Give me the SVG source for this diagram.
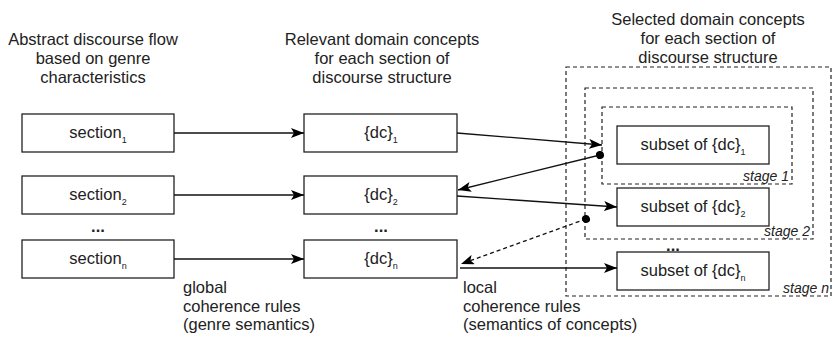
<svg xmlns="http://www.w3.org/2000/svg" width="834" height="337" viewBox="0 0 834 337">
<defs>
<marker id="arr" markerWidth="14" markerHeight="10" refX="13" refY="5" orient="auto" markerUnits="userSpaceOnUse">
<path d="M0,0 L13,5 L0,10 L3,5 z" fill="#000"/>
</marker>
<marker id="dot" markerWidth="10" markerHeight="10" refX="5" refY="5" orient="auto" markerUnits="userSpaceOnUse">
<circle cx="5" cy="5" r="4" fill="#000"/>
</marker>
</defs>
<style>
text{font-family:"Liberation Sans",Arial,sans-serif;font-size:16.5px;fill:#222}
.c{text-anchor:middle}
.sub{font-size:9px}
.st{font-style:italic;font-size:14px;text-anchor:end}
.box{fill:#fff;stroke:#222;stroke-width:1.3}
.stage{fill:none;stroke:#222;stroke-width:1.2;stroke-dasharray:4,3}
.ln{fill:none;stroke:#111;stroke-width:1.3}
.dash{stroke-dasharray:4,3}
.dots{font-weight:bold}
</style>
<rect width="834" height="337" fill="#fff"/>
<g id="headers">
<text class="c" x="93" y="45">Abstract discourse flow</text>
<text class="c" x="93" y="64">based on genre</text>
<text class="c" x="93" y="83">characteristics</text>
<text class="c" x="382" y="45">Relevant domain concepts</text>
<text class="c" x="382" y="64">for each section of</text>
<text class="c" x="382" y="83">discourse structure</text>
<text class="c" x="708" y="25">Selected domain concepts</text>
<text class="c" x="708" y="44">for each section of</text>
<text class="c" x="708" y="63">discourse structure</text>
</g>
<g id="stage-n"><rect class="stage" x="566" y="67" width="265" height="229"/><text class="st" x="829" y="293">stage n</text></g>
<g id="stage-2"><rect class="stage" x="585" y="88" width="228" height="151"/><text class="st" x="810" y="236">stage 2</text></g>
<g id="stage-1"><rect class="stage" x="602" y="107" width="190" height="77"/><text class="st" x="789" y="181">stage 1</text></g>
<g id="section1"><rect class="box" x="22" y="114" width="152" height="38"/><text class="c" x="98" y="138">section<tspan class="sub" dy="5">1</tspan></text></g>
<g id="section2"><rect class="box" x="22" y="176" width="152" height="38"/><text class="c" x="98" y="200">section<tspan class="sub" dy="5">2</tspan></text></g>
<g id="sectionn"><rect class="box" x="22" y="240" width="152" height="38"/><text class="c" x="98" y="264">section<tspan class="sub" dy="5">n</tspan></text></g>
<g id="dc1"><rect class="box" x="304" y="114" width="153" height="38"/><text class="c" x="381" y="138">{dc}<tspan class="sub" dy="5">1</tspan></text></g>
<g id="dc2"><rect class="box" x="304" y="176" width="153" height="38"/><text class="c" x="381" y="200">{dc}<tspan class="sub" dy="5">2</tspan></text></g>
<g id="dcn"><rect class="box" x="304" y="240" width="153" height="38"/><text class="c" x="381" y="264">{dc}<tspan class="sub" dy="5">n</tspan></text></g>
<g id="subset1"><rect class="box" x="617" y="126" width="152" height="38"/><text class="c" x="693" y="150">subset of {dc}<tspan class="sub" dy="5">1</tspan></text></g>
<g id="subset2"><rect class="box" x="617" y="188" width="152" height="38"/><text class="c" x="693" y="212">subset of {dc}<tspan class="sub" dy="5">2</tspan></text></g>
<g id="subsetn"><rect class="box" x="617" y="252" width="152" height="38"/><text class="c" x="693" y="276">subset of {dc}<tspan class="sub" dy="5">n</tspan></text></g>
<g id="ellipses">
<text class="c dots" x="98" y="232">...</text>
<text class="c dots" x="381" y="232">...</text>
<text class="c dots" x="673" y="251">...</text>
</g>
<g id="connectors">
<line class="ln" x1="174" y1="133" x2="304" y2="133" marker-end="url(#arr)"/>
<line class="ln" x1="174" y1="195" x2="304" y2="195" marker-end="url(#arr)"/>
<line class="ln" x1="174" y1="259" x2="304" y2="259" marker-end="url(#arr)"/>
<line class="ln" x1="457" y1="133" x2="602" y2="145" marker-end="url(#arr)"/>
<line class="ln" x1="600" y1="155" x2="458" y2="190" marker-start="url(#dot)" marker-end="url(#arr)"/>
<line class="ln" x1="457" y1="196" x2="617" y2="207" marker-end="url(#arr)"/>
<line class="ln dash" x1="586" y1="219" x2="461" y2="264" marker-start="url(#dot)" marker-end="url(#arr)"/>
<line class="ln" x1="460" y1="268" x2="617" y2="268" marker-end="url(#arr)"/>
</g>
<g id="labels">
<text x="183" y="293">global</text>
<text x="183" y="312">coherence rules</text>
<text x="183" y="330">(genre semantics)</text>
<text x="463" y="293">local</text>
<text x="463" y="312">coherence rules</text>
<text x="463" y="330">(semantics of concepts)</text>
</g>
</svg>
